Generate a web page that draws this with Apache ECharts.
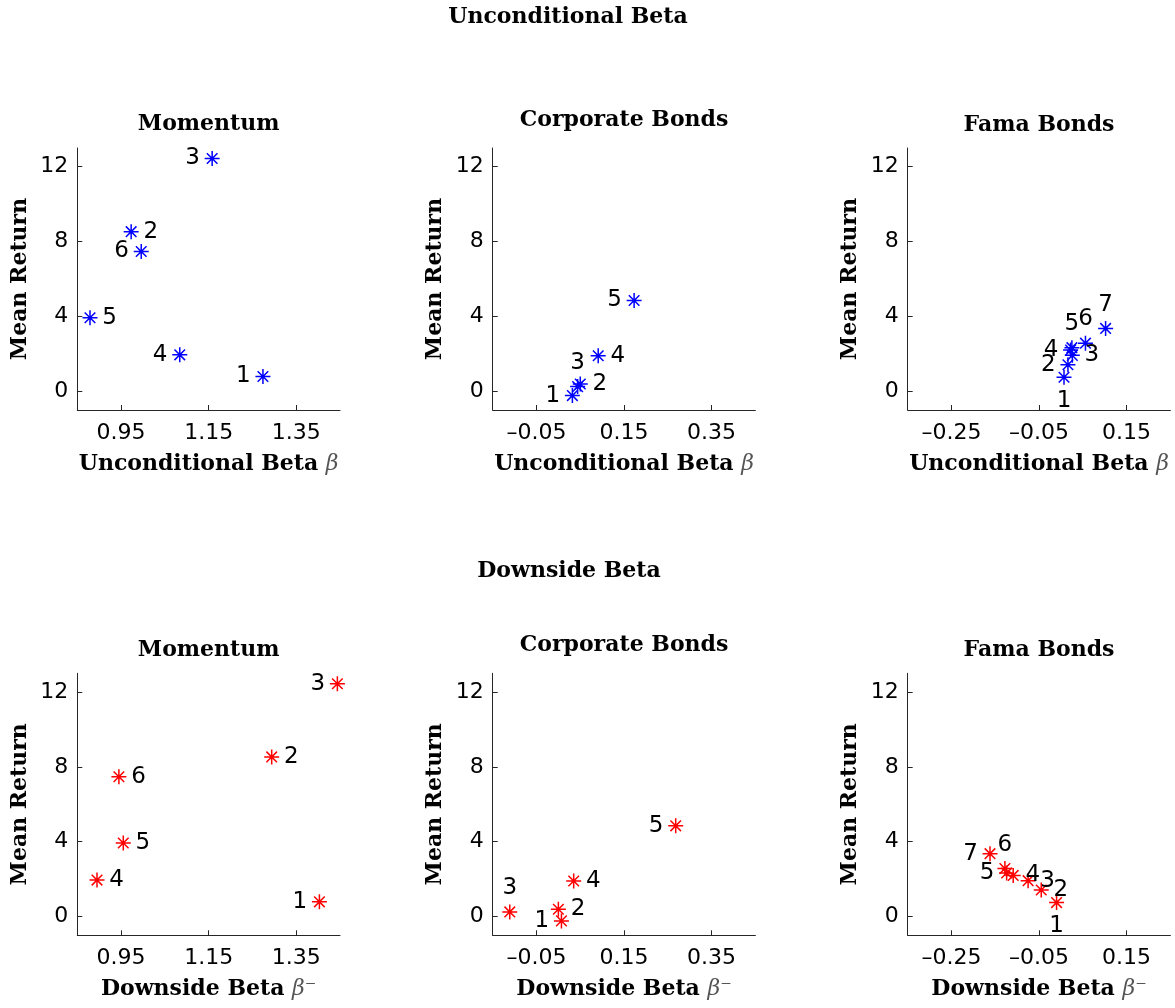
<!DOCTYPE html>
<html><head><meta charset="utf-8">
<script src="https://cdn.jsdelivr.net/npm/echarts@6/dist/echarts.min.js"></script>
<style>html,body{margin:0;padding:0;background:#fff}#c{width:1175px;height:1008px}</style>
</head><body><div id="c"></div>
<script>
// ---------------- DATA ----------------
const momentumNames = ['1', '2', '3', '4', '5', '6'];
const momentumMean = [0.79, 8.53, 12.44, 1.95, 3.93, 7.47];
const momentumBeta = [1.274, 0.973, 1.158, 1.084, 0.879, 0.996];
const momentumDownBeta = [1.403, 1.294, 1.444, 0.895, 0.955, 0.945];

const corpNames = ['1', '2', '3', '4', '5'];
const corpMean = [-0.23, 0.39, 0.25, 1.90, 4.85];
const corpBeta = [0.032, 0.050, 0.044, 0.091, 0.173];
const corpDownBeta = [0.007, 0.000, -0.111, 0.035, 0.268];

const famaNames = ['1', '2', '3', '4', '5', '6', '7'];
const famaMean = [0.75, 1.42, 1.92, 2.20, 2.33, 2.57, 3.36];
const famaBeta = [0.007, 0.016, 0.026, 0.022, 0.025, 0.056, 0.102];
const famaDownBeta = [-0.010, -0.045, -0.075, -0.109, -0.124, -0.128, -0.162];

const momentumTicks = [0.95, 1.15, 1.35];
const bondTicks = [-0.05, 0.15, 0.35];
const famaTicks = [-0.25, -0.05, 0.15];
const meanTicks = [0, 4, 8, 12];

// ---------------- PRESENTATION ----------------
const labelPlacement = {
  momU: ['left', 'right', 'left', 'left', 'right', 'left'],
  momD: ['left', 'right', 'left', 'right', 'right', 'right'],
  corU: ['left', 'right', 'top', 'right', 'left'],
  corD: ['left', 'right', 'top', 'right', 'left'],
  famU: ['bottom', 'left', 'right', 'left', 'top', 'top', 'top'],
  famD: ['bottom', 'right', 'right', 'right', 'left', 'top', 'left']
};

const colLeft = [77.3, 492.7, 907.7];
const gridW = 262.7;
const rowTop = [148, 673.3];
const gridH = 262;

const serif = 'DejaVu Serif';
const sans = 'DejaVu Sans';
const star = 'path://M10,0L10,20M0,10L20,10M2.93,2.93L17.07,17.07M2.93,17.07L17.07,2.93';
const fmt = v => {
  const s = Math.abs(v) < 1e-9 ? '0' : (Number.isInteger(v) ? String(v) : v.toFixed(2));
  return s.replace('-', '\u2013');
};
const titleSize = 22;
const tickSize = 22;

const panels = [
  {row: 0, col: 0, title: 'Momentum', tTop: 113, xs: momentumBeta, ys: momentumMean, names: momentumNames, min: 0.85, max: 1.45, ticks: momentumTicks, pos: labelPlacement.momU, color: '#0000ff', down: false},
  {row: 0, col: 1, title: 'Corporate Bonds', tTop: 109, xs: corpBeta, ys: corpMean, names: corpNames, min: -0.15, max: 0.45, ticks: bondTicks, pos: labelPlacement.corU, color: '#0000ff', down: false},
  {row: 0, col: 2, title: 'Fama Bonds', tTop: 114.5, xs: famaBeta, ys: famaMean, names: famaNames, min: -0.35, max: 0.25, ticks: famaTicks, pos: labelPlacement.famU, color: '#0000ff', down: false},
  {row: 1, col: 0, title: 'Momentum', tTop: 639, xs: momentumDownBeta, ys: momentumMean, names: momentumNames, min: 0.85, max: 1.45, ticks: momentumTicks, pos: labelPlacement.momD, color: '#ff0000', down: true},
  {row: 1, col: 1, title: 'Corporate Bonds', tTop: 634, xs: corpDownBeta, ys: corpMean, names: corpNames, min: -0.15, max: 0.45, ticks: bondTicks, pos: labelPlacement.corD, color: '#ff0000', down: true},
  {row: 1, col: 2, title: 'Fama Bonds', tTop: 639.5, xs: famaDownBeta, ys: famaMean, names: famaNames, min: -0.35, max: 0.25, ticks: famaTicks, pos: labelPlacement.famD, color: '#ff0000', down: true}
];

const axisLineStyle = {color: '#262626', width: 1};
const option = {
  backgroundColor: '#ffffff',
  animation: false,
  title: [
    {text: 'Unconditional Beta', left: 568, top: 6, textAlign: 'center', padding: 0,
     textStyle: {fontFamily: serif, fontWeight: 'bold', fontSize: titleSize, color: '#000'}},
    {text: 'Downside Beta', left: 569, top: 560, textAlign: 'center', padding: 0,
     textStyle: {fontFamily: serif, fontWeight: 'bold', fontSize: titleSize, color: '#000'}}
  ],
  grid: [], xAxis: [], yAxis: [], series: []
};

panels.forEach((p, i) => {
  const left = colLeft[p.col], top = rowTop[p.row];
  option.title.push({
    text: p.title, left: left + gridW / 2, top: p.tTop, textAlign: 'center', padding: 0,
    textStyle: {fontFamily: serif, fontWeight: 'bold', fontSize: titleSize, color: '#000'}
  });
  option.grid.push({left: left, top: top, width: gridW, height: gridH, containLabel: false});
  option.xAxis.push({
    type: 'value', gridIndex: i, min: p.min, max: p.max,
    name: p.down ? 'Downside Beta {b|\u03b2\u207b}' : 'Unconditional Beta {b|\u03b2}',
    nameLocation: 'middle', nameGap: 43,
    nameTextStyle: {fontFamily: serif, fontWeight: 'bold', fontSize: titleSize, color: '#000',
      rich: {b: {fontFamily: serif, fontStyle: 'italic', fontWeight: 'normal', fontSize: titleSize, color: '#555'}}},
    axisLine: {show: true, onZero: false, lineStyle: axisLineStyle},
    axisTick: {show: true, inside: true, length: 5, customValues: p.ticks, lineStyle: axisLineStyle},
    axisLabel: {customValues: p.ticks, formatter: fmt, margin: 12, fontFamily: sans, fontSize: tickSize, color: '#000'},
    splitLine: {show: false}
  });
  option.yAxis.push({
    type: 'value', gridIndex: i, min: -1, max: 13,
    name: 'Mean Return', nameLocation: 'middle', nameGap: 46,
    nameTextStyle: {fontFamily: serif, fontWeight: 'bold', fontSize: titleSize, color: '#000'},
    axisLine: {show: true, onZero: false, lineStyle: axisLineStyle},
    axisTick: {show: true, inside: true, length: 5, customValues: meanTicks, lineStyle: axisLineStyle},
    axisLabel: {customValues: meanTicks, formatter: fmt, margin: 9, fontFamily: sans, fontSize: tickSize, color: '#000'},
    splitLine: {show: false}
  });
  option.series.push({
    type: 'scatter', xAxisIndex: i, yAxisIndex: i,
    symbol: star, symbolSize: 15,
    itemStyle: {color: 'rgba(0,0,0,0)', borderColor: p.color, borderWidth: 1.5, opacity: 1},
    label: {show: true, formatter: '{b}', fontFamily: sans, fontSize: 23, color: '#000', distance: 4},
    emphasis: {disabled: true},
    data: p.xs.map((x, k) => ({name: p.names[k], value: [x, p.ys[k]], label: {position: p.pos[k]}}))
  });
});

const chart = echarts.init(document.getElementById('c'), null, {renderer: 'canvas'});
chart.setOption(option);
</script>
</body></html>
